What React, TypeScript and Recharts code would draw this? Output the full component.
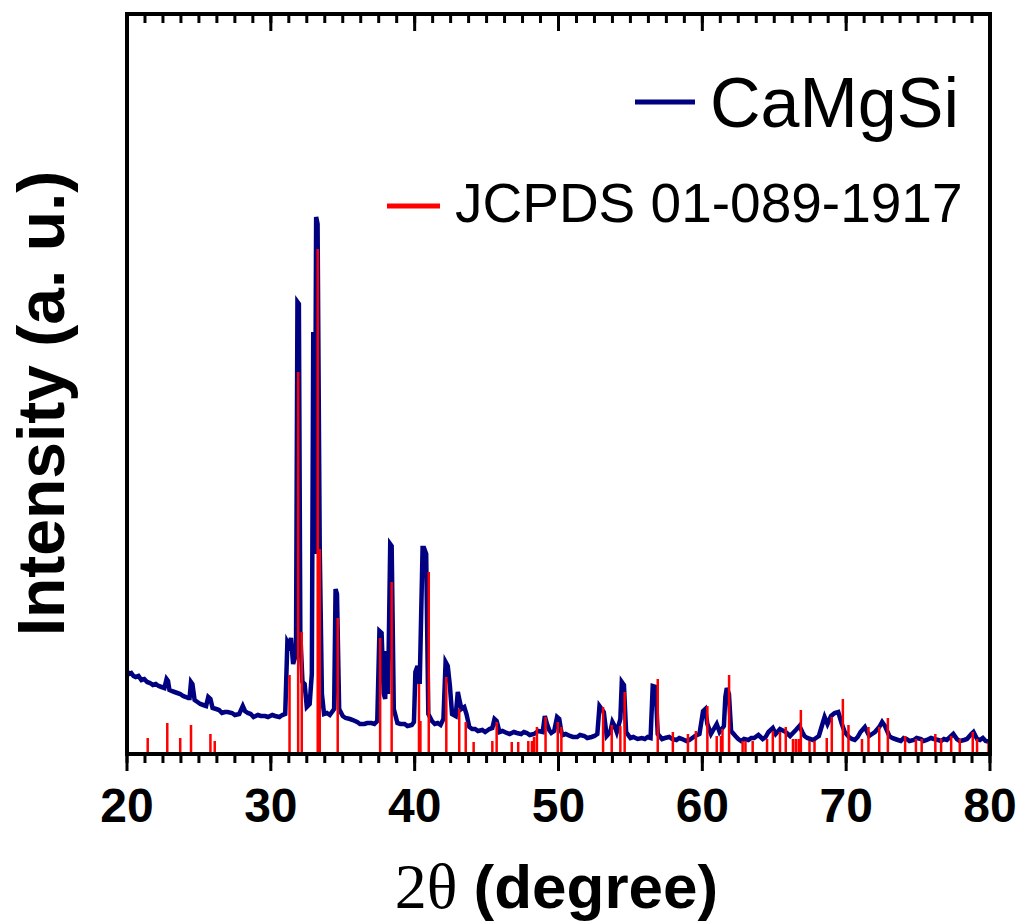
import { ComposedChart, Line, XAxis, YAxis, Label, ReferenceLine } from 'recharts';

// XRD scan of CaMgSi, [2theta, intensity a.u.]
const camgsiScan: [number, number][] = [
  [20.0, 83], [20.15, 80], [20.3, 81], [20.45, 78], [20.6, 77], [20.8, 78], [21.0, 74], [21.2, 75],
  [21.4, 72], [21.6, 71], [21.8, 69], [22.0, 70], [22.2, 68], [22.4, 67], [22.6, 66], [22.75, 75],
  [22.85, 73], [22.95, 64], [23.1, 63], [23.3, 62], [23.5, 61], [23.7, 60], [23.9, 58], [24.1, 57],
  [24.25, 56], [24.35, 56], [24.45, 72], [24.55, 70], [24.7, 54], [24.9, 52], [25.1, 50], [25.3, 49],
  [25.5, 48], [25.65, 57], [25.8, 55], [25.95, 46], [26.2, 45], [26.4, 44], [26.6, 41], [26.8, 42],
  [27.0, 42], [27.3, 41], [27.5, 39], [27.8, 40], [28.05, 48], [28.2, 43], [28.4, 41], [28.6, 40],
  [28.8, 37], [29.1, 39], [29.3, 38], [29.6, 38], [29.8, 37], [30.1, 39], [30.3, 38], [30.6, 37],
  [30.8, 39], [31.0, 40], [31.15, 112], [31.3, 108], [31.4, 116], [31.55, 90], [31.75, 100], [31.85, 452],
  [31.95, 450], [32.05, 120], [32.2, 72], [32.35, 70], [32.5, 47], [32.7, 50], [32.85, 80], [32.95, 422],
  [33.05, 200], [33.15, 537], [33.25, 530], [33.4, 205], [33.55, 60], [33.7, 40], [33.9, 41], [34.1, 39],
  [34.4, 45], [34.5, 165], [34.6, 160], [34.75, 45], [35.0, 38], [35.2, 36], [35.5, 35], [35.7, 34],
  [36.0, 32], [36.2, 30], [36.5, 30], [36.7, 31], [37.0, 31], [37.2, 30], [37.4, 33], [37.55, 123],
  [37.7, 121], [37.85, 60], [37.95, 55], [38.05, 103], [38.15, 60], [38.3, 210], [38.4, 208], [38.55, 45],
  [38.8, 31], [39.0, 30], [39.3, 30], [39.5, 28], [39.8, 29], [39.95, 32], [40.05, 82], [40.2, 88],
  [40.35, 70], [40.55, 206], [40.65, 206], [40.8, 200], [40.95, 40], [41.2, 33], [41.4, 30], [41.6, 31],
  [41.8, 29], [42.0, 35], [42.15, 92], [42.3, 88], [42.45, 68], [42.6, 40], [42.85, 38], [43.0, 62],
  [43.1, 55], [43.25, 45], [43.45, 47], [43.6, 40], [43.8, 27], [44.0, 25], [44.2, 25], [44.4, 23],
  [44.7, 24], [44.9, 22], [45.2, 25], [45.4, 26], [45.55, 35], [45.7, 33], [45.9, 22], [46.1, 23],
  [46.4, 21], [46.6, 20], [46.9, 22], [47.1, 21], [47.4, 20], [47.6, 22], [47.8, 21], [48.0, 19],
  [48.3, 20], [48.6, 23], [48.9, 22], [49.05, 38], [49.2, 30], [49.35, 24], [49.5, 21], [49.7, 23],
  [49.9, 37], [50.05, 35], [50.2, 22], [50.3, 19], [50.5, 20], [50.8, 18], [51.0, 17], [51.3, 17],
  [51.5, 19], [51.8, 18], [52.0, 16], [52.3, 17], [52.5, 18], [52.7, 20], [52.85, 48], [53.0, 45],
  [53.15, 42], [53.35, 18], [53.6, 22], [53.75, 32], [53.9, 28], [54.05, 22], [54.3, 35], [54.4, 72],
  [54.55, 69], [54.7, 22], [55.0, 16], [55.2, 17], [55.5, 15], [55.8, 16], [56.0, 15], [56.2, 17],
  [56.4, 16], [56.55, 68], [56.75, 67], [56.9, 20], [57.2, 15], [57.4, 16], [57.7, 17], [57.9, 15],
  [58.2, 14], [58.4, 16], [58.6, 15], [58.9, 13], [59.1, 14], [59.3, 16], [59.5, 18], [59.8, 20],
  [60.05, 43], [60.2, 45], [60.35, 30], [60.6, 20], [61.0, 30], [61.2, 22], [61.5, 28], [61.6, 57],
  [61.7, 66], [61.85, 60], [62.0, 23], [62.3, 18], [62.5, 15], [62.7, 13], [62.9, 15], [63.2, 14],
  [63.4, 16], [63.6, 16], [63.9, 19], [64.2, 15], [64.4, 17], [64.6, 22], [64.9, 26], [65.1, 20],
  [65.4, 25], [65.8, 22], [66.1, 18], [66.5, 24], [66.75, 28], [66.95, 22], [67.1, 18], [67.3, 16],
  [67.5, 15], [67.7, 14], [67.9, 16], [68.1, 18], [68.35, 30], [68.5, 37], [68.7, 30], [68.95, 38],
  [69.2, 41], [69.45, 42], [69.7, 30], [69.9, 22], [70.2, 17], [70.4, 15], [70.6, 14], [70.8, 17],
  [71.0, 22], [71.3, 27], [71.6, 18], [71.8, 20], [72.0, 22], [72.3, 27], [72.5, 32], [72.7, 28],
  [73.0, 18], [73.2, 16], [73.4, 15], [73.6, 14], [73.8, 13], [74.0, 16], [74.2, 15], [74.4, 13],
  [74.7, 14], [74.9, 16], [75.2, 15], [75.4, 13], [75.6, 14], [75.9, 16], [76.1, 15], [76.4, 14],
  [76.6, 13], [76.8, 15], [77.0, 14], [77.3, 18], [77.45, 20], [77.7, 15], [77.9, 13], [78.2, 14],
  [78.4, 15], [78.7, 20], [78.85, 22], [79.1, 15], [79.3, 14], [79.5, 16], [79.7, 13], [80.0, 12],
];

// reference pattern JCPDS 01-089-1917, [2theta, relative height]
const jcpdsPeaks: [number, number][] = [
  [21.44, 16], [22.8, 31], [23.7, 16], [24.45, 29], [25.8, 20], [26.1, 13], [31.3, 79], [31.9, 382],
  [32.15, 122], [33.26, 505], [33.4, 205], [34.65, 136], [37.6, 116], [38.4, 172], [40.3, 70], [40.4, 33],
  [40.98, 182], [42.2, 77], [43.1, 45], [43.55, 32], [44.1, 12], [45.4, 13], [45.7, 32], [46.75, 12],
  [47.2, 12], [47.9, 13], [48.15, 13], [48.3, 17], [48.5, 27], [49.1, 37], [49.95, 32], [50.2, 27],
  [53.1, 47], [53.7, 29], [54.3, 28], [54.6, 62], [56.9, 75], [57.95, 22], [59.0, 20], [59.55, 23],
  [60.35, 48], [61.0, 18], [61.3, 18], [61.4, 25], [61.86, 79], [62.8, 13], [63.0, 13], [63.5, 13],
  [64.5, 15], [64.9, 23], [65.4, 22], [65.8, 27], [66.3, 15], [66.5, 15], [66.7, 15], [66.85, 44],
  [67.45, 13], [67.8, 13], [68.65, 16], [69.0, 37], [69.77, 55], [70.16, 29], [71.1, 15], [71.55, 27],
  [72.3, 27], [72.9, 36], [74.1, 18], [74.85, 15], [75.25, 15], [76.2, 20], [76.6, 15], [77.3, 18],
  [77.9, 15], [78.8, 22], [79.1, 15], [79.9, 12],
];

const seriesNames = ['CaMgSi', 'JCPDS 01-089-1917'];
const majorTicks = [20, 30, 40, 50, 60, 70, 80];
const minorTicks = Array.from({ length: 49 }, (_, k) => 20 + k * 1.25);
const X_MIN = 20;
const X_MAX = 80;
const Y_MAX = 740; // one intensity unit per pixel of plot height
const MAJOR_LEN = 17;
const MINOR_LEN = 9;

const SANS = '"Liberation Sans", Arial, sans-serif';
const SERIF = '"Liberation Serif", "Times New Roman", serif';

const scanData = camgsiScan.map(([x, i]) => ({ x, i }));
const stickData = jcpdsPeaks.flatMap(([x, h]) => [{ x, i: 0 }, { x, i: h }, { x, i: null }]);

// bottom axis: outward major tick + number; the axis sits MAJOR_LEN under the frame
const majorTick = (props: any) => {
  const { x, y, payload } = props;
  return (
    <g>
      <rect x={x - 1.5} y={y - MAJOR_LEN} width={3} height={MAJOR_LEN} fill="#000" />
      <text x={x} y={y + 51} textAnchor="middle" fontSize={48} fontWeight="bold"
        fontFamily={SANS} fill="#000">{payload.value}</text>
    </g>
  );
};
// second bottom axis is stacked one pixel lower
const minorTick = (props: any) => {
  const { x, y } = props;
  return <rect x={x - 1.5} y={y - MAJOR_LEN - 1} width={3} height={MINOR_LEN} fill="#000" />;
};

// top ticks point into the plot
const topTicks = [
  ...minorTicks.map((t) => ({ key: `tm${t}`, seg: [{ x: t, y: Y_MAX }, { x: t, y: Y_MAX - MINOR_LEN }] })),
  ...majorTicks.map((t) => ({ key: `tj${t}`, seg: [{ x: t, y: Y_MAX }, { x: t, y: Y_MAX - MAJOR_LEN }] })),
];

const frameSegments = [
  { key: 'left', seg: [{ x: X_MIN, y: 0 }, { x: X_MIN, y: Y_MAX }] },
  { key: 'right', seg: [{ x: X_MAX, y: 0 }, { x: X_MAX, y: Y_MAX }] },
  { key: 'bottom', seg: [{ x: X_MIN, y: 0 }, { x: X_MAX, y: 0 }] },
  { key: 'top', seg: [{ x: X_MIN, y: Y_MAX }, { x: X_MAX, y: Y_MAX }] },
];

// legend block in the upper right of the frame
const LegendBlock = () => (
  <g>
    <line x1={635} x2={695} y1={102} y2={102} stroke="#000080" strokeWidth={5} />
    <text x={710} y={127} fontSize={70} fontFamily={SANS} fill="#000">{seriesNames[0]}</text>
    <line x1={387} x2={440} y1={206} y2={206} stroke="#ff0000" strokeWidth={5} />
    <text x={455} y={222} fontSize={55} fontFamily={SANS} fill="#000">{seriesNames[1]}</text>
  </g>
);

const App = () => {
  return (
    <div style={{ position: 'absolute', left: 0, top: 0 }}>
      <ComposedChart width={1018} height={922} margin={{ top: 14, right: 28, left: 126, bottom: 149 }}>
        <XAxis xAxisId="b" type="number" dataKey="x" domain={[X_MIN, X_MAX]} ticks={majorTicks} interval={0}
          height={1} tickSize={0} tickMargin={0} tickLine={false} axisLine={false}
          tick={majorTick} allowDataOverflow>
          <Label content={({ viewBox }: any) => (
            <g>
              <text x={viewBox.x + viewBox.width / 2 - 2} y={908} textAnchor="middle" fill="#000">
                <tspan fontFamily={SERIF} fontSize={64}>2θ </tspan>
                <tspan fontFamily={SANS} fontSize={62} fontWeight="bold">(degree)</tspan>
              </text>
              <LegendBlock />
            </g>
          )} />
        </XAxis>
        <XAxis xAxisId="bm" type="number" dataKey="x" domain={[X_MIN, X_MAX]} ticks={minorTicks} interval={0}
          height={1} tickSize={0} tickMargin={0} tickLine={false} axisLine={false}
          tick={minorTick} allowDataOverflow />
        <YAxis yAxisId="l" type="number" domain={[-MAJOR_LEN, Y_MAX]} width={1} tick={false} tickLine={false}
          axisLine={false} allowDataOverflow>
          <Label content={({ viewBox }: any) => {
            const cx = viewBox.x - 62;
            const cy = viewBox.y + viewBox.height / 2 + 11;
            return (
              <text x={cx} y={cy} transform={`rotate(-90, ${cx}, ${cy})`} textAnchor="middle"
                fontSize={66} fontWeight="bold" fontFamily={SANS} fill="#000">Intensity (a. u.)</text>
            );
          }} />
        </YAxis>
        <Line data={scanData} xAxisId="b" yAxisId="l" dataKey="i" name={seriesNames[0]} type="linear"
          stroke="#000080" strokeWidth={4.5} dot={false} activeDot={false} isAnimationActive={false} />
        <Line data={stickData} xAxisId="b" yAxisId="l" dataKey="i" name={seriesNames[1]} type="linear"
          stroke="#ff0000" strokeWidth={2.5} dot={false} activeDot={false} connectNulls={false}
          isAnimationActive={false} />
        {topTicks.map((s) => (
          <ReferenceLine key={s.key} xAxisId="b" yAxisId="l" segment={s.seg} ifOverflow="visible"
            stroke="#000" strokeWidth={3} />
        ))}
        {frameSegments.map((s) => (
          <ReferenceLine key={s.key} xAxisId="b" yAxisId="l" segment={s.seg} ifOverflow="visible"
            stroke="#000" strokeWidth={4} strokeLinecap="square" />
        ))}
      </ComposedChart>
    </div>
  );
};

export default App;
